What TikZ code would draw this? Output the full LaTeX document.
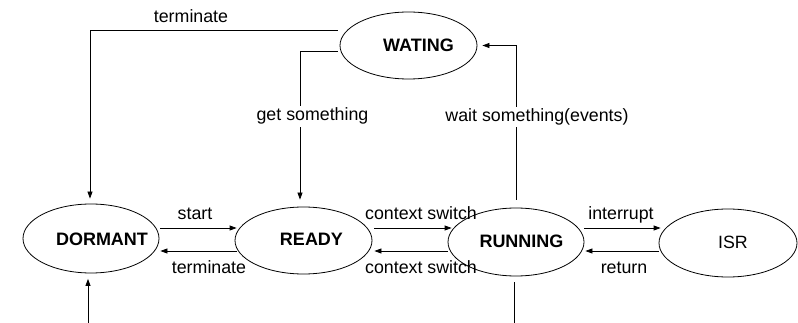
\documentclass[tikz,border=0pt]{standalone}
\usepackage{fontspec}
\setmainfont{Liberation Sans}
\usetikzlibrary{shapes.geometric,arrows.meta,calc}

\begin{document}
\begin{tikzpicture}[x=1pt,y=-1pt,
  state/.style={draw,ellipse,line width=0.8pt,inner sep=0pt},
  stname/.style={font=\fontsize{18}{21}\selectfont\bfseries,inner sep=0pt},
  isrname/.style={font=\fontsize{17.8}{21}\selectfont,inner sep=0pt},
  lbl/.style={font=\fontsize{17.8}{21}\selectfont,anchor=base,inner sep=0pt},
  gaplbl/.style={lbl,fill=white,inner xsep=1pt,inner ysep=2pt},
  conn/.style={draw,line width=0.8pt},
  flow/.style={conn,-{Triangle[length=7pt,width=5pt]}}]

  % page frame
  \useasboundingbox (0,0) rectangle (798,323);

  % states
  \node[state,minimum width=137pt,minimum height=67pt,
        label={[stname,xshift=10pt]center:WATING}] (wait) at (408.5,45.5) {};
  \node[state,minimum width=136pt,minimum height=69pt,
        label={[stname,xshift=11pt,yshift=-0.5pt]center:DORMANT}] (dorm) at (91,238.5) {};
  \node[state,minimum width=137pt,minimum height=67pt,
        label={[stname,xshift=8pt,yshift=0.8pt]center:READY}] (ready) at (303.5,240.5) {};
  \node[state,minimum width=136pt,minimum height=68pt,
        label={[stname,xshift=5.5pt,yshift=1pt]center:RUNNING}] (run) at (516,242) {};
  \node[state,minimum width=138pt,minimum height=68pt,
        label={[isrname,xshift=5pt,yshift=1pt]center:ISR}] (isr) at (728,243) {};

  % free ends at the lower edge
  \coordinate (dormin) at (88,323);
  \coordinate (runout) at (514,323);

  % transitions
  \draw[flow] ($(wait.west)+(-2,-15.5)$) -| ($(dorm.north)+(-1,-5)$);
  \draw[flow] ($(wait.west)+(-2,5.5)$) -| ($(ready.north)+(-3.5,-7)$);
  \draw[flow] ($(run.north)+(0,-8)$) |- ($(wait.east)+(5,0)$);

  \draw[flow] ($(dorm.east)+(1,-10.5)$) -- ($(ready.west)+(2,-12.5)$);
  \draw[flow] ($(ready.west)+(2,10.5)$) -- ($(dorm.east)+(1,12.5)$);

  \draw[flow] ($(ready.east)+(2,-12.5)$) -- ($(run.west)+(4,-14)$);
  \draw[flow] ($(run.west)+(0,9)$) -- ($(ready.east)+(2,10.5)$);

  \draw[flow] ($(run.east)+(0,-14)$) -- ($(isr.west)+(2,-15)$);
  \draw[flow] ($(isr.west)+(0,8)$) -- ($(run.east)+(1,9)$);

  \draw[flow] (dormin) -- ($(dorm.south)+(-3,5.5)$);
  \draw[conn] ($(run.south)+(-2,6)$) -- (runout);

  % transition labels
  \node[lbl] (lterm1) at (191,23) {terminate};
  \node[gaplbl] (lget) at (312.5,121) {get something};
  \node[gaplbl] (lwait) at (537,121.5) {wait something(events)};
  \node[lbl] (lstart) at (195,219.3) {start};
  \node[lbl] (lterm2) at (209,273.3) {terminate};
  \node[lbl] (lctx1) at (421,219.3) {context switch};
  \node[lbl] (lctx2) at (421,273.3) {context switch};
  \node[lbl] (lint) at (621,219.3) {interrupt};
  \node[lbl] (lret) at (624,273.3) {return};
\end{tikzpicture}
\end{document}
